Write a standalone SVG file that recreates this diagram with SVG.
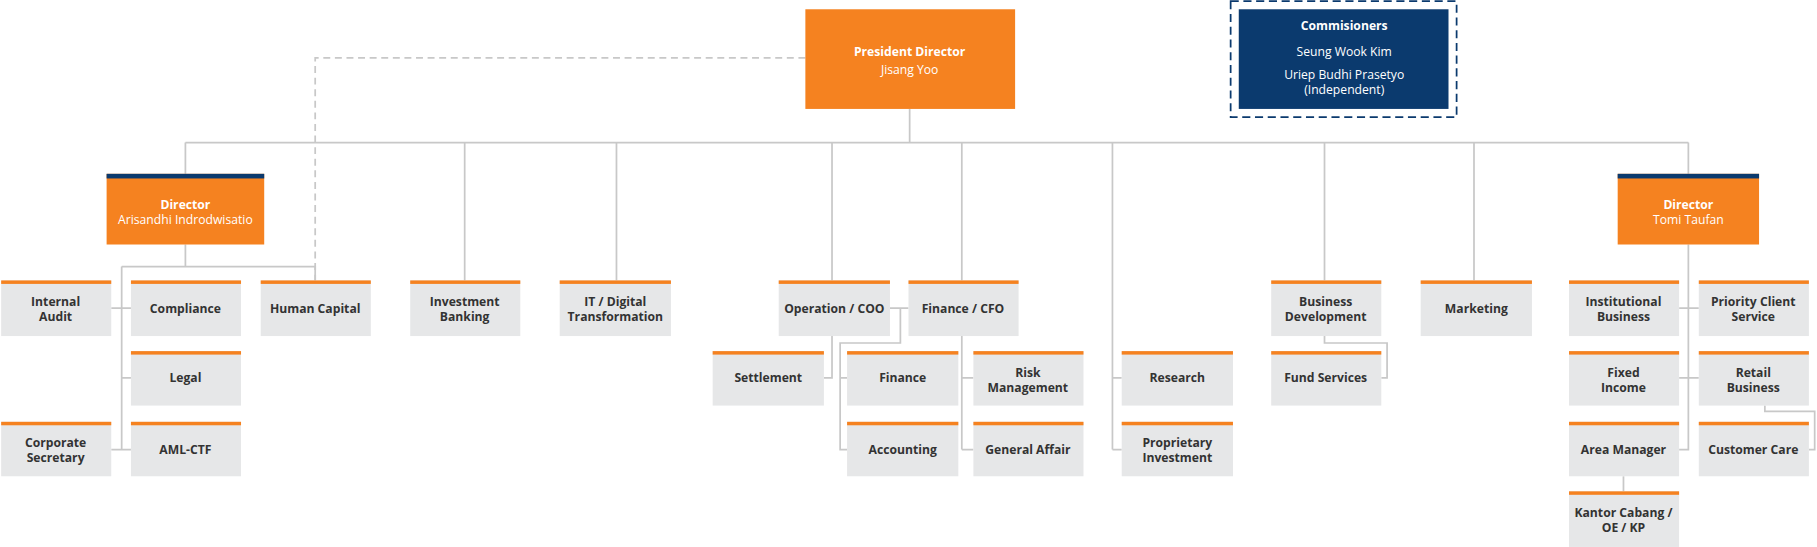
<svg xmlns="http://www.w3.org/2000/svg" width="1817" height="547" viewBox="0 0 1817 547">
<style>
.b{fill:#E6E7E8}.t{fill:#F58220}.o{fill:#F58220}.n{fill:#0B3A6E}
text{font-family:"Open Sans","Noto Sans",sans-serif;font-size:10.5px;text-anchor:middle}
.l{fill:#333;font-weight:bold}.w{fill:#fff;font-weight:bold}.wn{fill:#fff}
.c{fill:none;stroke:#C8C8C8;stroke-width:1.5}
</style>
<rect width="1817" height="547" fill="#fff"/>
<g transform="scale(1.1588)">
<g id="connectors" class="c">
<path d="M695 50H272V242" stroke-dasharray="6,4"/>
<path d="M785 94V123M160 123H1457M160 123V150M401 123V242M532 123V242M718 123V242M830 123V242M960 123V388M1143 123V242M1272 123V242M1457 123V150"/>
<path d="M160 211V230M105 230H272V242M105 230V388M96 266H113M105 326H113M96 388H113"/>
<path d="M768 266H784M777 266V296H725V388H731M725 326H731M718 290V326H711M830 290V388M830 326H840M830 388H840M960 326H968M960 388H968"/>
<path d="M1143 290V296H1197V326H1192"/>
<path d="M1457 211V388H1449M1449 266H1466M1449 326H1466M1523 350V355H1566V388H1561M1401 411V424"/>
</g>
<g id="president"><rect x="695" y="8" width="181" height="86" class="o"/><text x="785" y="48" class="w" font-size="12">President Director</text><text x="785" y="64" class="wn" font-size="12">Jisang Yoo</text></g>
<g id="commissioners"><rect x="1062" y="1" width="195" height="100" fill="none" stroke="#0B3A6E" stroke-width="1.5" stroke-dasharray="7,4"/><rect x="1069" y="8" width="181" height="86" class="n"/><text x="1160" y="26" class="w" font-size="12">Commisioners</text><text x="1160" y="48" class="wn" font-size="12">Seung Wook Kim</text><text x="1160" y="68" class="wn" font-size="12">Uriep Budhi Prasetyo</text><text x="1160" y="81" class="wn" font-size="12">(Independent)</text></g>
<g id="dir-left"><rect x="92" y="150" width="136" height="61" class="o"/><rect x="92" y="150" width="136" height="4" class="n"/><text x="160" y="180" class="w">Director</text><text x="160" y="193" class="wn">Arisandhi Indrodwisatio</text></g>
<g id="dir-right"><rect x="1396" y="150" width="122" height="61" class="o"/><rect x="1396" y="150" width="122" height="4" class="n"/><text x="1457" y="180" class="w">Director</text><text x="1457" y="193" class="wn">Tomi Taufan</text></g>
<g id="internal-audit"><rect x="1" y="242" width="95" height="48" class="b"/><rect x="1" y="242" width="95" height="3" class="t"/><text x="48" y="264" class="l">Internal</text><text x="48" y="277" class="l">Audit</text></g>
<g id="compliance"><rect x="113" y="242" width="95" height="48" class="b"/><rect x="113" y="242" width="95" height="3" class="t"/><text x="160" y="270" class="l">Compliance</text></g>
<g id="human-capital"><rect x="225" y="242" width="95" height="48" class="b"/><rect x="225" y="242" width="95" height="3" class="t"/><text x="272" y="270" class="l">Human Capital</text></g>
<g id="legal"><rect x="113" y="303" width="95" height="47" class="b"/><rect x="113" y="303" width="95" height="3" class="t"/><text x="160" y="330" class="l">Legal</text></g>
<g id="corp-sec"><rect x="1" y="364" width="95" height="47" class="b"/><rect x="1" y="364" width="95" height="3" class="t"/><text x="48" y="386" class="l">Corporate</text><text x="48" y="399" class="l">Secretary</text></g>
<g id="aml"><rect x="113" y="364" width="95" height="47" class="b"/><rect x="113" y="364" width="95" height="3" class="t"/><text x="160" y="392" class="l">AML-CTF</text></g>
<g id="ib"><rect x="354" y="242" width="95" height="48" class="b"/><rect x="354" y="242" width="95" height="3" class="t"/><text x="401" y="264" class="l">Investment</text><text x="401" y="277" class="l">Banking</text></g>
<g id="it"><rect x="483" y="242" width="96" height="48" class="b"/><rect x="483" y="242" width="96" height="3" class="t"/><text x="531" y="264" class="l">IT / Digital</text><text x="531" y="277" class="l">Transformation</text></g>
<g id="coo"><rect x="672" y="242" width="96" height="48" class="b"/><rect x="672" y="242" width="96" height="3" class="t"/><text x="720" y="270" class="l">Operation / COO</text></g>
<g id="cfo"><rect x="784" y="242" width="95" height="48" class="b"/><rect x="784" y="242" width="95" height="3" class="t"/><text x="831" y="270" class="l">Finance / CFO</text></g>
<g id="settlement"><rect x="615" y="303" width="96" height="47" class="b"/><rect x="615" y="303" width="96" height="3" class="t"/><text x="663" y="330" class="l">Settlement</text></g>
<g id="finance"><rect x="731" y="303" width="96" height="47" class="b"/><rect x="731" y="303" width="96" height="3" class="t"/><text x="779" y="330" class="l">Finance</text></g>
<g id="risk"><rect x="840" y="303" width="95" height="47" class="b"/><rect x="840" y="303" width="95" height="3" class="t"/><text x="887" y="325" class="l">Risk</text><text x="887" y="338" class="l">Management</text></g>
<g id="accounting"><rect x="731" y="364" width="96" height="47" class="b"/><rect x="731" y="364" width="96" height="3" class="t"/><text x="779" y="392" class="l">Accounting</text></g>
<g id="ga"><rect x="840" y="364" width="95" height="47" class="b"/><rect x="840" y="364" width="95" height="3" class="t"/><text x="887" y="392" class="l">General Affair</text></g>
<g id="research"><rect x="968" y="303" width="96" height="47" class="b"/><rect x="968" y="303" width="96" height="3" class="t"/><text x="1016" y="330" class="l">Research</text></g>
<g id="proprietary"><rect x="968" y="364" width="96" height="47" class="b"/><rect x="968" y="364" width="96" height="3" class="t"/><text x="1016" y="386" class="l">Proprietary</text><text x="1016" y="399" class="l">Investment</text></g>
<g id="bd"><rect x="1097" y="242" width="95" height="48" class="b"/><rect x="1097" y="242" width="95" height="3" class="t"/><text x="1144" y="264" class="l">Business</text><text x="1144" y="277" class="l">Development</text></g>
<g id="fund"><rect x="1097" y="303" width="95" height="47" class="b"/><rect x="1097" y="303" width="95" height="3" class="t"/><text x="1144" y="330" class="l">Fund Services</text></g>
<g id="marketing"><rect x="1226" y="242" width="96" height="48" class="b"/><rect x="1226" y="242" width="96" height="3" class="t"/><text x="1274" y="270" class="l">Marketing</text></g>
<g id="institutional"><rect x="1354" y="242" width="95" height="48" class="b"/><rect x="1354" y="242" width="95" height="3" class="t"/><text x="1401" y="264" class="l">Institutional</text><text x="1401" y="277" class="l">Business</text></g>
<g id="priority"><rect x="1466" y="242" width="95" height="48" class="b"/><rect x="1466" y="242" width="95" height="3" class="t"/><text x="1513" y="264" class="l">Priority Client</text><text x="1513" y="277" class="l">Service</text></g>
<g id="fixed"><rect x="1354" y="303" width="95" height="47" class="b"/><rect x="1354" y="303" width="95" height="3" class="t"/><text x="1401" y="325" class="l">Fixed</text><text x="1401" y="338" class="l">Income</text></g>
<g id="retail"><rect x="1466" y="303" width="95" height="47" class="b"/><rect x="1466" y="303" width="95" height="3" class="t"/><text x="1513" y="325" class="l">Retail</text><text x="1513" y="338" class="l">Business</text></g>
<g id="area"><rect x="1354" y="364" width="95" height="47" class="b"/><rect x="1354" y="364" width="95" height="3" class="t"/><text x="1401" y="392" class="l">Area Manager</text></g>
<g id="customer"><rect x="1466" y="364" width="95" height="47" class="b"/><rect x="1466" y="364" width="95" height="3" class="t"/><text x="1513" y="392" class="l">Customer Care</text></g>
<g id="kantor"><rect x="1354" y="424" width="95" height="48" class="b"/><rect x="1354" y="424" width="95" height="3" class="t"/><text x="1401" y="446" class="l">Kantor Cabang /</text><text x="1401" y="459" class="l">OE / KP</text></g>
</g>
</svg>
